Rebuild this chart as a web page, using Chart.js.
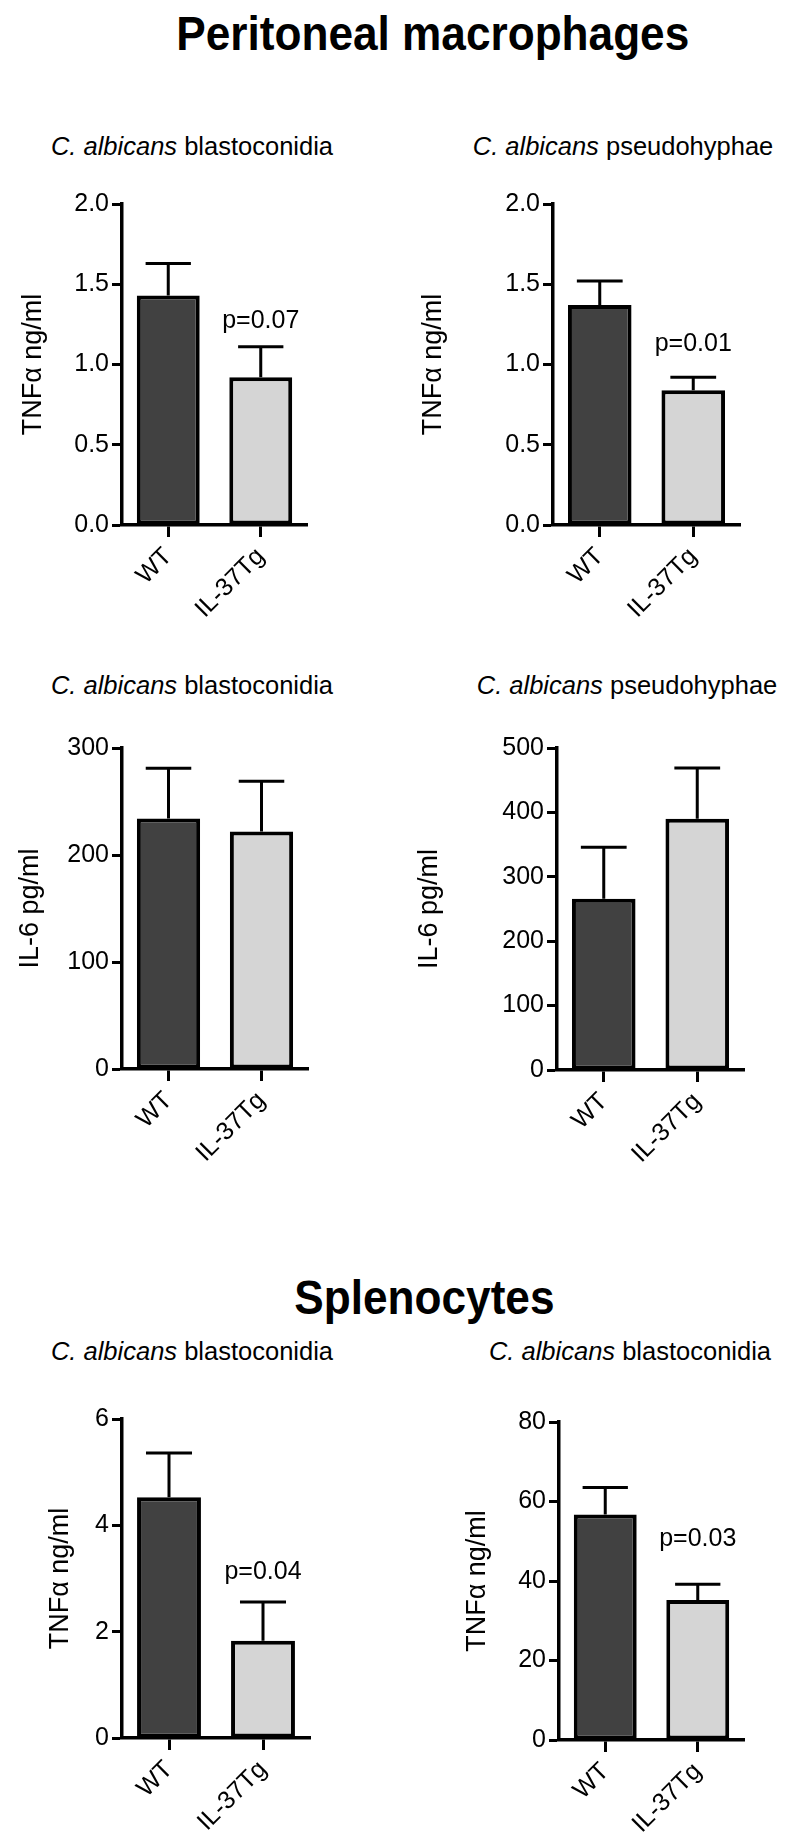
<!DOCTYPE html>
<html>
<head>
<meta charset="utf-8">
<script src="https://cdn.jsdelivr.net/npm/chart.js@4.4.1/dist/chart.umd.min.js"></script>
<style>
  body { margin: 0; width: 793px; height: 1841px; background: #fff; position: relative; overflow: hidden;
         font-family: "Liberation Sans", Arial, sans-serif; color: #000; }
  .head { position: absolute; left: 36px; width: 793px; text-align: center; font-weight: bold;
          font-size: 48px; line-height: 48px; }
  .head span { display: inline-block; transform: scaleX(0.92); }
  .sub { position: absolute; width: 400px; text-align: center; font-size: 25.5px; line-height: 26px; white-space: nowrap; }
  canvas { position: absolute; }
</style>
</head>
<body>
<div class="head" style="top:10px"><span>Peritoneal macrophages</span></div>
<div class="head" style="top:1274px; left:28px"><span>Splenocytes</span></div>

<div class="sub" style="left:-8px; top:133px"><i>C. albicans</i> blastoconidia</div>
<div class="sub" style="left:423px; top:133px"><i>C. albicans</i> pseudohyphae</div>
<div class="sub" style="left:-8px; top:672px"><i>C. albicans</i> blastoconidia</div>
<div class="sub" style="left:427px; top:672px"><i>C. albicans</i> pseudohyphae</div>
<div class="sub" style="left:-8px; top:1338px"><i>C. albicans</i> blastoconidia</div>
<div class="sub" style="left:430px; top:1338px"><i>C. albicans</i> blastoconidia</div>

<canvas id="c1" width="330" height="461" style="left:0px; top:174px"></canvas>
<canvas id="c2" width="393" height="461" style="left:400px; top:174px"></canvas>
<canvas id="c3" width="330" height="461" style="left:0px; top:718px"></canvas>
<canvas id="c4" width="393" height="462" style="left:400px; top:718px"></canvas>
<canvas id="c5" width="330" height="459" style="left:0px; top:1389px"></canvas>
<canvas id="c6" width="393" height="458" style="left:400px; top:1392px"></canvas>

<script>
const groups = ["WT", "IL-37Tg"];

// peritoneal macrophages, TNFa (ng/ml)
const macTnfBlasto = [1.43, 0.92];
const macTnfBlastoSem = [0.20, 0.19];
const macTnfPseudo = [1.37, 0.84];
const macTnfPseudoSem = [0.15, 0.08];

// peritoneal macrophages, IL-6 (pg/ml)
const macIl6Blasto = [234, 222];
const macIl6BlastoSem = [47, 47];
const macIl6Pseudo = [266, 390];
const macIl6PseudoSem = [80, 79];

// splenocytes, TNFa (ng/ml)
const splTnfA = [4.53, 1.83];
const splTnfASem = [0.83, 0.73];
const splTnfB = [56.7, 35.2];
const splTnfBSem = [6.8, 4.0];

const pValues = ["p=0.07", "p=0.01", null, null, "p=0.04", "p=0.03"];

const FONT = '"Liberation Sans", Arial, sans-serif';

// draws the upper half of the SEM bars, and the p value above the second bar
const errorBars = {
  id: "errorBars",
  afterDatasetsDraw(chart, args, opts) {
    const ctx = chart.ctx;
    const y = chart.scales.y;
    const bars = chart.getDatasetMeta(0).data;
    ctx.save();
    ctx.strokeStyle = "#000";
    ctx.lineWidth = 3;
    bars.forEach((bar, i) => {
      const top = y.getPixelForValue(opts.values[i] + opts.sem[i]);
      const half = bar.width * 0.36;
      ctx.beginPath();
      ctx.moveTo(bar.x, bar.y);
      ctx.lineTo(bar.x, top);
      ctx.moveTo(bar.x - half, top);
      ctx.lineTo(bar.x + half, top);
      ctx.stroke();
    });
    if (opts.pText) {
      const b = bars[1];
      const top = y.getPixelForValue(opts.values[1] + opts.sem[1]);
      ctx.fillStyle = "#000";
      ctx.font = "25px " + FONT;
      ctx.textAlign = "center";
      ctx.textBaseline = "middle";
      ctx.fillText(opts.pText, b.x, top - opts.pOffset);
    }
    ctx.restore();
  }
};

function panel(id, values, sem, p) {
  return new Chart(document.getElementById(id), {
    type: "bar",
    data: {
      labels: groups,
      datasets: [{
        data: values,
        backgroundColor: ["#414141", "#d5d5d5"],
        borderColor: "#000",
        borderWidth: 4,
        borderSkipped: false,
        barPercentage: 0.68,
        categoryPercentage: 1.0
      }]
    },
    options: {
      responsive: false,
      animation: false,
      layout: { padding: { top: 30, right: p.padRight, left: 0, bottom: 0 } },
      plugins: {
        legend: { display: false },
        tooltip: { enabled: false },
        errorBars: { values: values, sem: sem, pText: p.pText, pOffset: p.pOffset }
      },
      scales: {
        x: {
          afterFit: s => { s.height = 110; },
          border: { display: true, color: "#000", width: 3.5 },
          grid: { display: true, offset: false, drawOnChartArea: false, tickLength: 12, tickWidth: 3, tickColor: "#000" },
          ticks: { color: "#000", font: { family: FONT, size: 25 }, minRotation: 45, maxRotation: 45, padding: 5 }
        },
        y: {
          min: 0,
          max: p.max,
          afterFit: s => { s.width = p.yWidth; },
          border: { display: true, color: "#000", width: 3.5 },
          grid: { display: true, drawOnChartArea: false, tickLength: 10, tickWidth: 3, tickColor: "#000" },
          ticks: {
            stepSize: p.step,
            color: "#000",
            padding: 3,
            font: { family: FONT, size: 25 },
            callback: v => v.toFixed(p.decimals)
          },
          title: {
            display: true,
            text: p.title,
            color: "#000",
            font: { family: FONT, size: 27 },
            padding: { top: p.titlePad, bottom: 0 }
          }
        }
      }
    },
    plugins: [errorBars]
  });
}

panel("c1", macTnfBlasto, macTnfBlastoSem,
  { max: 2, step: 0.5, decimals: 1, title: "TNFα ng/ml", yWidth: 122, padRight: 23, titlePad: 17, pText: pValues[0], pOffset: 26 });
panel("c2", macTnfPseudo, macTnfPseudoSem,
  { max: 2, step: 0.5, decimals: 1, title: "TNFα ng/ml", yWidth: 153, padRight: 53, titlePad: 17, pText: pValues[1], pOffset: 33 });
panel("c3", macIl6Blasto, macIl6BlastoSem,
  { max: 300, step: 100, decimals: 0, title: "IL-6 pg/ml", yWidth: 122, padRight: 22, titlePad: 14, pText: pValues[2], pOffset: 0 });
panel("c4", macIl6Pseudo, macIl6PseudoSem,
  { max: 500, step: 100, decimals: 0, title: "IL-6 pg/ml", yWidth: 157, padRight: 49, titlePad: 13, pText: pValues[3], pOffset: 0 });
panel("c5", splTnfA, splTnfASem,
  { max: 6, step: 2, decimals: 0, title: "TNFα ng/ml", yWidth: 122, padRight: 20, titlePad: 44, pText: pValues[4], pOffset: 30 });
panel("c6", splTnfB, splTnfBSem,
  { max: 80, step: 20, decimals: 0, title: "TNFα ng/ml", yWidth: 159, padRight: 49, titlePad: 61, pText: pValues[5], pOffset: 45 });
</script>
</body>
</html>
